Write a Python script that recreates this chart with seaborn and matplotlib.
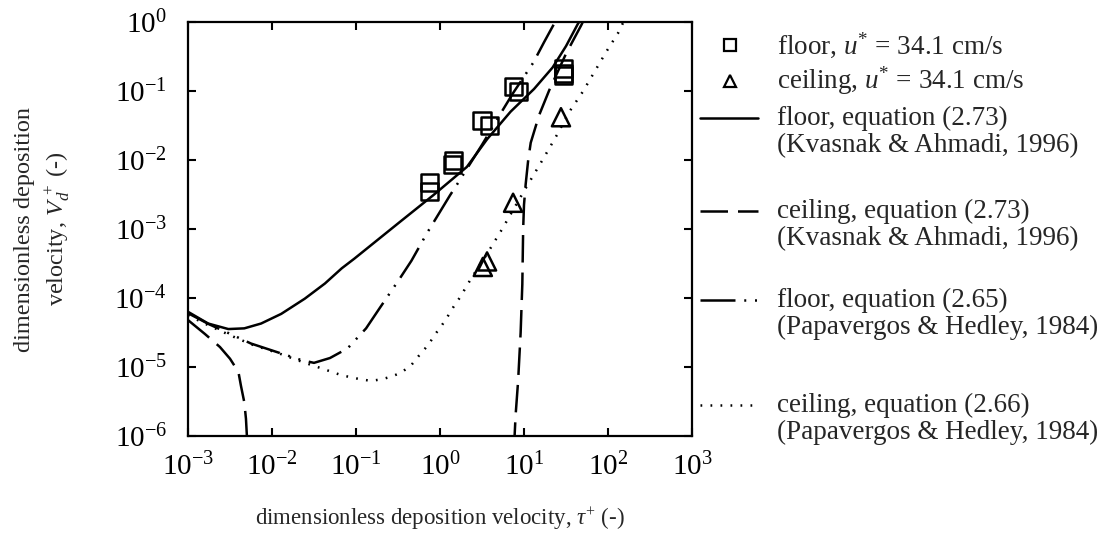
import numpy as np
import matplotlib
matplotlib.use('Agg')
import matplotlib.pyplot as plt
from matplotlib.lines import Line2D
import seaborn as sns

# values, kept as log10(tau+) / log10(Vd+)
floor_ka_logtau = [-3.0, -2.76, -2.52, -2.33, -2.13, -1.89, -1.61, -1.37, -1.17, -1.02,
                   -0.48, -0.08, 0.32, 0.56, 0.84, 1.12, 1.34, 1.50, 1.64, 1.70]
floor_ka_logv = [-4.20, -4.37, -4.45, -4.44, -4.37, -4.23, -4.01, -3.79, -3.57, -3.43,
                 -2.90, -2.51, -2.10, -1.70, -1.30, -0.97, -0.66, -0.35, -0.03, 0.08]

ceil_ka_left_logtau = [-3.0, -2.8, -2.62, -2.5, -2.4, -2.37, -2.33, -2.31, -2.29]
ceil_ka_left_logv = [-4.32, -4.52, -4.71, -4.88, -5.07, -5.27, -5.51, -5.75, -6.2]
ceil_ka_right_logtau = [0.88, 0.90, 0.93, 0.96, 0.98, 0.99, 1.0, 1.02, 1.05, 1.08,
                        1.18, 1.30, 1.50, 1.68, 1.72]
ceil_ka_right_logv = [-6.2, -5.7, -5.2, -4.5, -3.8, -3.0, -2.65, -2.35, -2.0, -1.75,
                      -1.35, -0.99, -0.46, -0.05, 0.05]

floor_ph_logtau = [-3.0, -2.75, -2.48, -2.25, -1.9, -1.65, -1.5, -1.31, -1.10, -0.88,
                   -0.72, -0.48, -0.34, -0.155, 0.12, 0.20, 0.50, 0.75, 0.87, 1.11,
                   1.24, 1.37, 1.42]
floor_ph_logv = [-4.22, -4.38, -4.53, -4.66, -4.80, -4.90, -4.94, -4.87, -4.73, -4.44,
                 -4.15, -3.72, -3.46, -3.06, -2.51, -2.36, -1.78, -1.27, -1.03, -0.59,
                 -0.29, 0.0, 0.1]

ceil_ph_logtau = [-3.0, -2.75, -2.48, -2.25, -1.9, -1.63, -1.41, -1.17, -0.94, -0.82,
                  -0.70, -0.58, -0.46, -0.34, -0.24, -0.14, -0.06, 0.02, 0.10, 0.17,
                  0.25, 0.31, 0.38, 0.55, 0.74, 1.0, 1.23, 1.40, 1.54, 1.70,
                  1.84, 1.98, 2.12, 2.18, 2.25]
ceil_ph_logv = [-4.25, -4.40, -4.55, -4.67, -4.81, -4.93, -5.02, -5.12, -5.18, -5.20,
                -5.18, -5.14, -5.08, -4.97, -4.82, -4.68, -4.53, -4.40, -4.25, -4.11,
                -3.97, -3.84, -3.70, -3.38, -3.0, -2.45, -1.98, -1.62, -1.30, -1.01,
                -0.72, -0.43, -0.16, -0.01, 0.12]

floor_pts_logtau = [-0.12, -0.12, 0.15, 0.16, 0.50, 0.59, 0.87, 0.93, 1.47, 1.47, 1.47]
floor_pts_logv = [-2.32, -2.46, -2.06, -2.01, -1.43, -1.50, -0.93, -1.01, -0.68, -0.74, -0.78]
ceil_pts_logtau = [0.51, 0.56, 0.87, 1.44]
ceil_pts_logv = [-3.55, -3.47, -2.62, -1.38]

ticks = [1e-3, 1e-2, 1e-1, 1e0, 1e1, 1e2, 1e3]
yticks = [1e-6, 1e-5, 1e-4, 1e-3, 1e-2, 1e-1, 1e0]

DASHED = (0, (11, 4))
DASHDOTDOT = (0, (14, 3.5, 0.8, 3.5, 0.8, 3.5))
DOTTED = (0, (0.7, 3.3))

legend_items = [
    ('s', None, ['floor, $u^{*}$ = 34.1 cm/s']),
    ('^', None, ['ceiling, $u^{*}$ = 34.1 cm/s']),
    (None, '-', ['floor, equation (2.73)', '(Kvasnak & Ahmadi, 1996)']),
    (None, DASHED, ['ceiling, equation (2.73)', '(Kvasnak & Ahmadi, 1996)']),
    (None, DASHDOTDOT, ['floor, equation (2.65)', '(Papavergos & Hedley, 1984)']),
    (None, DOTTED, ['ceiling, equation (2.66)', '(Papavergos & Hedley, 1984)']),
]
legend_rows = [45, 81, 118, 211, 300, 405]


def lg(a):
    return np.power(10.0, np.array(a))


sns.set_theme(style='ticks')
plt.rcParams['font.family'] = ['Liberation Serif', 'DejaVu Serif']
plt.rcParams['mathtext.fontset'] = 'custom'
plt.rcParams['mathtext.rm'] = 'Liberation Serif'
plt.rcParams['mathtext.it'] = 'Liberation Serif:italic'

W, H = 1108, 551
fig = plt.figure(figsize=(W / 100, H / 100), dpi=100)
ax = fig.add_axes([188 / W, 1 - 436 / H, 504 / W, 414 / H])

lw = 1.8
kw = dict(ax=ax, color='black', linewidth=lw, sort=False, estimator=None, legend=False)
sns.lineplot(x=lg(floor_ka_logtau), y=lg(floor_ka_logv), linestyle='-', **kw)
sns.lineplot(x=lg(ceil_ka_left_logtau), y=lg(ceil_ka_left_logv), linestyle=DASHED, **kw)
sns.lineplot(x=lg(ceil_ka_right_logtau), y=lg(ceil_ka_right_logv), linestyle=DASHED, **kw)
sns.lineplot(x=lg(floor_ph_logtau), y=lg(floor_ph_logv), linestyle=DASHDOTDOT, **kw)
sns.lineplot(x=lg(ceil_ph_logtau), y=lg(ceil_ph_logv), linestyle=DOTTED, **kw)

sns.scatterplot(x=lg(floor_pts_logtau), y=lg(floor_pts_logv), ax=ax, marker='s', s=150,
                facecolor='none', edgecolor='black', linewidth=1.8, legend=False, zorder=3)
sns.scatterplot(x=lg(ceil_pts_logtau), y=lg(ceil_pts_logv), ax=ax, marker='^', s=170,
                facecolor='none', edgecolor='black', linewidth=1.8, legend=False, zorder=3)

ax.set_xscale('log')
ax.set_yscale('log')
ax.set_xlim(1e-3, 1e3)
ax.set_ylim(1e-6, 1e0)
ax.set_xticks(ticks)
ax.set_yticks(yticks)
ax.minorticks_off()
ax.tick_params(which='major', direction='in', top=True, right=True, length=6, width=1.5,
               labelsize=21, colors='black')
ax.tick_params(axis='x', pad=12)
ax.tick_params(axis='y', pad=15)
for sp in ax.spines.values():
    sp.set_linewidth(1.6)
    sp.set_color('black')
ax.set_xlabel('')
ax.set_ylabel('')

fig.text(440 / W, 1 - 519 / H, r'dimensionless deposition velocity, $\tau^{+}$ (-)',
         ha='center', va='center', fontsize=16.5)
fig.text(43 / W, 1 - 229 / H, 'dimensionless deposition\nvelocity, $V_d^{\\,+}$ (-)',
         ha='center', va='center', rotation=90, fontsize=17.5, multialignment='center',
         linespacing=1.45)

# hand-built legend to the right of the axes
for (marker, ls, lines), y in zip(legend_items, legend_rows):
    yf = 1 - y / H
    if marker is not None:
        fig.add_artist(Line2D([730 / W], [yf], marker=marker, markersize=9,
                              markerfacecolor='none', markeredgecolor='black',
                              markeredgewidth=1.6, linestyle='none',
                              transform=fig.transFigure))
    else:
        fig.add_artist(Line2D([700 / W, 758 / W], [yf, yf], color='black', linewidth=lw,
                              linestyle=ls, transform=fig.transFigure))
    for i, t in enumerate(lines):
        fig.text(777 / W, yf - i * 27.5 / H, t, ha='left', va='center', fontsize=19.5)

fig.savefig('out.png', dpi=100)
